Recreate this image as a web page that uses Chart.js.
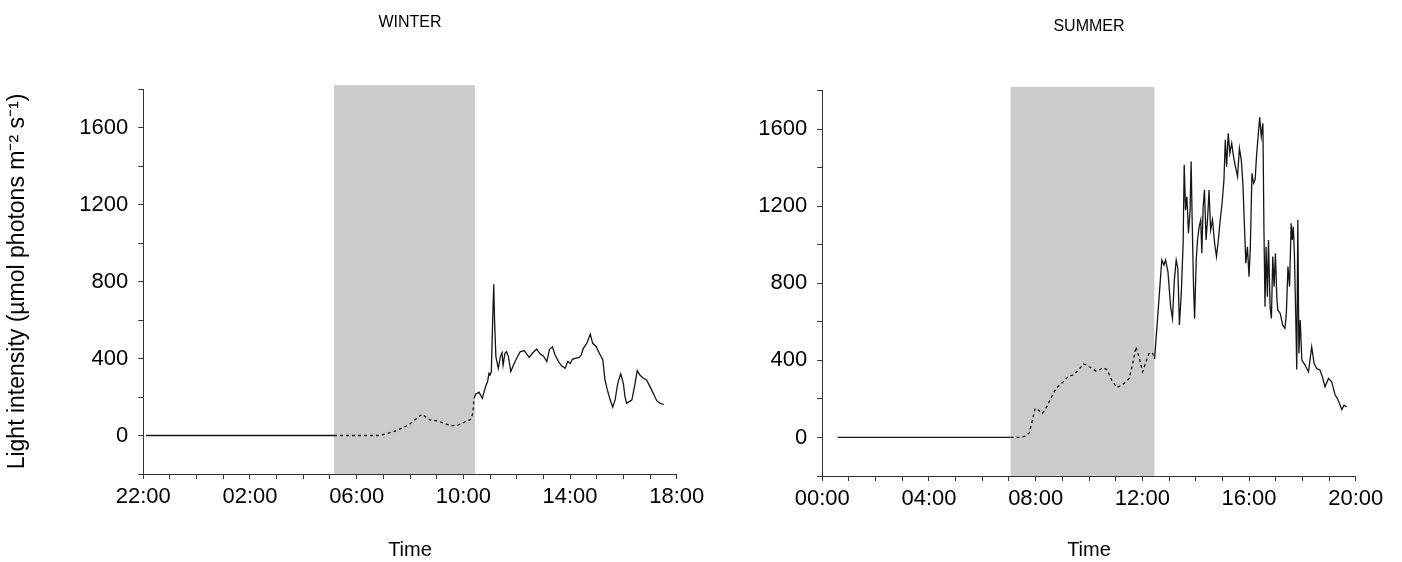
<!DOCTYPE html>
<html>
<head>
<meta charset="utf-8">
<title>Light intensity - winter / summer</title>
<script src="https://cdn.jsdelivr.net/npm/chart.js@4.4.1/dist/chart.umd.min.js"></script>
<style>
  body { margin: 0; background: #fff; }
  #wrap { position: relative; width: 1402px; height: 562px; }
  .box { position: absolute; top: 0; height: 562px; }
</style>
</head>
<body>
<div id="wrap">
  <div class="box" style="left:0;width:730px"><canvas id="winterChart" width="730" height="562"></canvas></div>
  <div class="box" style="left:700px;width:702px"><canvas id="summerChart" width="702" height="562"></canvas></div>
</div>
<script>
// Data. Time is in hours since the left end of each axis
// (winter starts at 22:00, summer at 00:00). Light in umol photons m-2 s-1.

// --------------------------------
// Winter
// --------------------------------
const winterHours = [0.1, 7.15, 8.0, 8.87, 9.41, 9.95, 10.45, 10.75, 11.02, 11.55, 11.82, 12.09, 12.29, 12.36, 12.40,
    12.47, 12.59, 12.71, 12.84, 12.91, 12.96, 13.00, 13.05, 13.10, 13.14, 13.17, 13.22, 13.31, 13.39, 13.45, 13.49,
    13.56, 13.62, 13.69, 13.78, 13.88, 14.00, 14.13, 14.28, 14.34, 14.47, 14.59, 14.75, 14.88, 15.00, 15.13, 15.23,
    15.34, 15.44, 15.57, 15.69, 15.82, 15.91, 16.01, 16.09, 16.19, 16.35, 16.42, 16.50, 16.63, 16.76, 16.85, 16.98,
    17.10, 17.23, 17.31, 17.40, 17.50, 17.60, 17.69, 17.79, 17.90, 18.00, 18.06, 18.12, 18.22, 18.32, 18.44, 18.52,
    18.62, 18.75, 18.87, 19.00, 19.12, 19.25, 19.37, 19.52];
const winterLight = [0, 0, 0, 0, 21, 55, 111, 81, 76, 50, 55, 73, 85, 120, 193,
    216, 225, 193, 257, 280, 323, 314, 332, 600, 786, 600, 410, 349, 410, 430, 366,
    427, 435, 410, 332, 366, 401, 435, 441, 430, 406, 427, 449, 423, 413, 384, 448,
    461, 418, 384, 361, 349, 384, 375, 396, 401, 406, 418, 453, 479, 527, 479, 461,
    427, 392, 289, 237, 188, 147, 185, 271, 320, 271, 202, 168, 176, 185, 271, 337,
    314, 297, 289, 254, 219, 181, 168, 161];
const winterShade = [7.15, 12.44];   // grey band (start, end) in hours
const winterTickLabels = ['22:00', '02:00', '06:00', '10:00', '14:00', '18:00'];

// --------------------------------
// Summer
// --------------------------------
const summerHours = [0.57, 7.06, 7.41, 7.60, 7.76, 7.85, 7.98, 8.10, 8.26, 8.41, 8.60, 8.76, 8.91, 9.10, 9.23, 9.41,
    9.60, 9.79, 9.94, 10.10, 10.26, 10.41, 10.54, 10.69, 10.85, 11.04, 11.16, 11.35, 11.51, 11.64, 11.76, 11.89,
    12.01, 12.14, 12.26, 12.39, 12.46,
    12.63, 12.73, 12.81, 12.87, 12.96, 13.06, 13.13, 13.20, 13.27, 13.33, 13.39, 13.46, 13.53, 13.57, 13.62, 13.67,
    13.73, 13.79, 13.83, 13.87, 13.92, 13.96,
    14.02, 14.07, 14.13, 14.19, 14.23, 14.28, 14.33, 14.39, 14.45, 14.50, 14.56, 14.63, 14.71, 14.78, 14.85, 14.92, 14.99,
    15.06, 15.11, 15.16, 15.22, 15.28, 15.35, 15.42, 15.49, 15.57, 15.64, 15.71, 15.77, 15.82, 15.88, 15.94,
    16.00, 16.05, 16.11, 16.17, 16.23, 16.28, 16.34, 16.40, 16.46, 16.52, 16.56, 16.60, 16.64, 16.69, 16.73, 16.79,
    16.84, 16.89, 16.94, 16.99,
    17.04, 17.08, 17.17, 17.26, 17.35, 17.40, 17.46, 17.52, 17.58, 17.62, 17.66, 17.70, 17.75, 17.79, 17.83, 17.87,
    17.92, 17.98,
    18.10, 18.23, 18.35, 18.44, 18.54, 18.66, 18.75, 18.85, 18.98,
    19.10, 19.23, 19.31, 19.39, 19.48, 19.56, 19.66];
const summerLight = [0, 0, 0, 7, 24, 73, 151, 142, 125, 159, 211, 255, 272, 298, 319, 324,
    350, 381, 376, 358, 345, 353, 362, 350, 298, 260, 267, 284, 306, 384, 471, 410,
    341, 393, 440, 436, 408,
    731, 921, 895, 921, 861, 679, 618, 817, 921, 878, 584, 748, 1008, 1415, 1181, 1250,
    1060, 1181, 1432, 1112, 783, 618,
    921, 1025, 1094, 1129, 956, 1198, 1285, 1025, 1146, 1285, 1077, 1129, 1008, 939, 1025, 1129, 1216,
    1337, 1545, 1406, 1579, 1475, 1527, 1458, 1406, 1354, 1501, 1441, 1320, 1129, 904, 990,
    835, 990, 1371, 1320, 1337, 1458, 1562, 1662, 1562, 1631, 1077, 679, 990, 731, 1025, 679,
    618, 939, 783, 956,
    731, 662, 644, 584, 566, 644, 887, 783, 1112, 1025, 1094, 956, 644, 353, 1129, 436,
    610, 402,
    376, 341, 471, 384, 358, 350, 315, 263, 306,
    289, 220, 203, 177, 145, 168, 159];
const summerShade = [7.06, 12.45];
const summerTickLabels = ['00:00', '04:00', '08:00', '12:00', '16:00', '20:00'];

const yTitle = 'Light intensity (µmol photons m⁻² s⁻¹)';

Chart.defaults.font.family = '"Liberation Sans", Arial, sans-serif';
Chart.defaults.color = '#000';

// Grey band behind the trace, drawn before the axes so the axis line stays on top
const shadePlugin = {
    id: 'shade',
    beforeDraw(chart, args, opts) {
        const {ctx, scales: {x, y}} = chart;
        const x0 = x.getPixelForValue(opts.from);
        const x1 = x.getPixelForValue(opts.to);
        const yTop = y.getPixelForValue(opts.top);
        const yBot = y.getPixelForValue(y.min);
        ctx.save();
        ctx.fillStyle = opts.color;
        ctx.fillRect(x0, yTop, x1 - x0, yBot - yTop);
        ctx.restore();
    }
};

function makeChart(id, hours, light, shade, tickLabels, title, lay) {
    const ctx = document.getElementById(id).getContext('2d');
    return new Chart(ctx, {
        type: 'line',
        data: {
            datasets: [{
                data: hours.map((h, i) => ({x: h, y: light[i]})),
                borderColor: '#151515',
                borderWidth: 1.3,
                pointRadius: 0,
                tension: 0,
                fill: false,
                // dotted while inside the grey band
                segment: {
                    borderDash: c => (c.p0.parsed.x >= shade[0] - 0.001 && c.p1.parsed.x <= shade[1] + 0.02) ? [3, 3] : undefined
                }
            }]
        },
        options: {
            responsive: false,
            animation: false,
            events: [],
            layout: { padding: { left: 0, right: lay.padRight, top: 0, bottom: 0 } },
            plugins: {
                legend: { display: false },
                tooltip: { enabled: false },
                title: {
                    display: true,
                    text: title,
                    fullSize: false,
                    color: '#000',
                    font: { size: 16, weight: 'normal' },
                    padding: { top: lay.titleTop, bottom: lay.titleBottom }
                },
                shade: { from: shade[0], to: shade[1], top: 1820, color: '#cbcbcb' }
            },
            scales: {
                x: {
                    type: 'linear',
                    min: 0,
                    max: 20,
                    border: { display: true, color: '#333', width: 1 },
                    grid: { display: true, drawOnChartArea: false, drawTicks: true, tickLength: 5, color: '#333' },
                    ticks: {
                        stepSize: 1,
                        autoSkip: false,
                        maxRotation: 0,
                        padding: 5,
                        font: { size: 22 },
                        callback: v => (v % 4 === 0 ? tickLabels[v / 4] : '')
                    },
                    title: { display: true, text: 'Time', font: { size: 20 }, padding: { top: 0, bottom: 0 } },
                    afterFit: s => { s.height = lay.xHeight; }
                },
                y: {
                    min: -200,
                    max: 1800,
                    border: { display: true, color: '#333', width: 1 },
                    grid: { display: true, drawOnChartArea: false, drawTicks: true, tickLength: 5, color: '#333' },
                    ticks: {
                        stepSize: 200,
                        padding: 10,
                        font: { size: 22 },
                        callback: v => (v % 400 === 0 && v >= 0 && v <= 1600 ? v : '')
                    },
                    title: { display: lay.showYTitle, text: yTitle, font: { size: 23 }, padding: { top: 4, bottom: 0 } },
                    afterFit: s => { s.width = lay.yWidth; }
                }
            }
        },
        plugins: [shadePlugin]
    });
}

const winterChart = makeChart('winterChart', winterHours, winterLight, winterShade, winterTickLabels, 'WINTER',
    { yWidth: 143.3, padRight: 53.3, xHeight: 88, titleTop: 13, titleBottom: 56.8, showYTitle: true });

const summerChart = makeChart('summerChart', summerHours, summerLight, summerShade, summerTickLabels, 'SUMMER',
    { yWidth: 122.3, padRight: 46.3, xHeight: 86, titleTop: 17, titleBottom: 54.5, showYTitle: false });
</script>
</body>
</html>
